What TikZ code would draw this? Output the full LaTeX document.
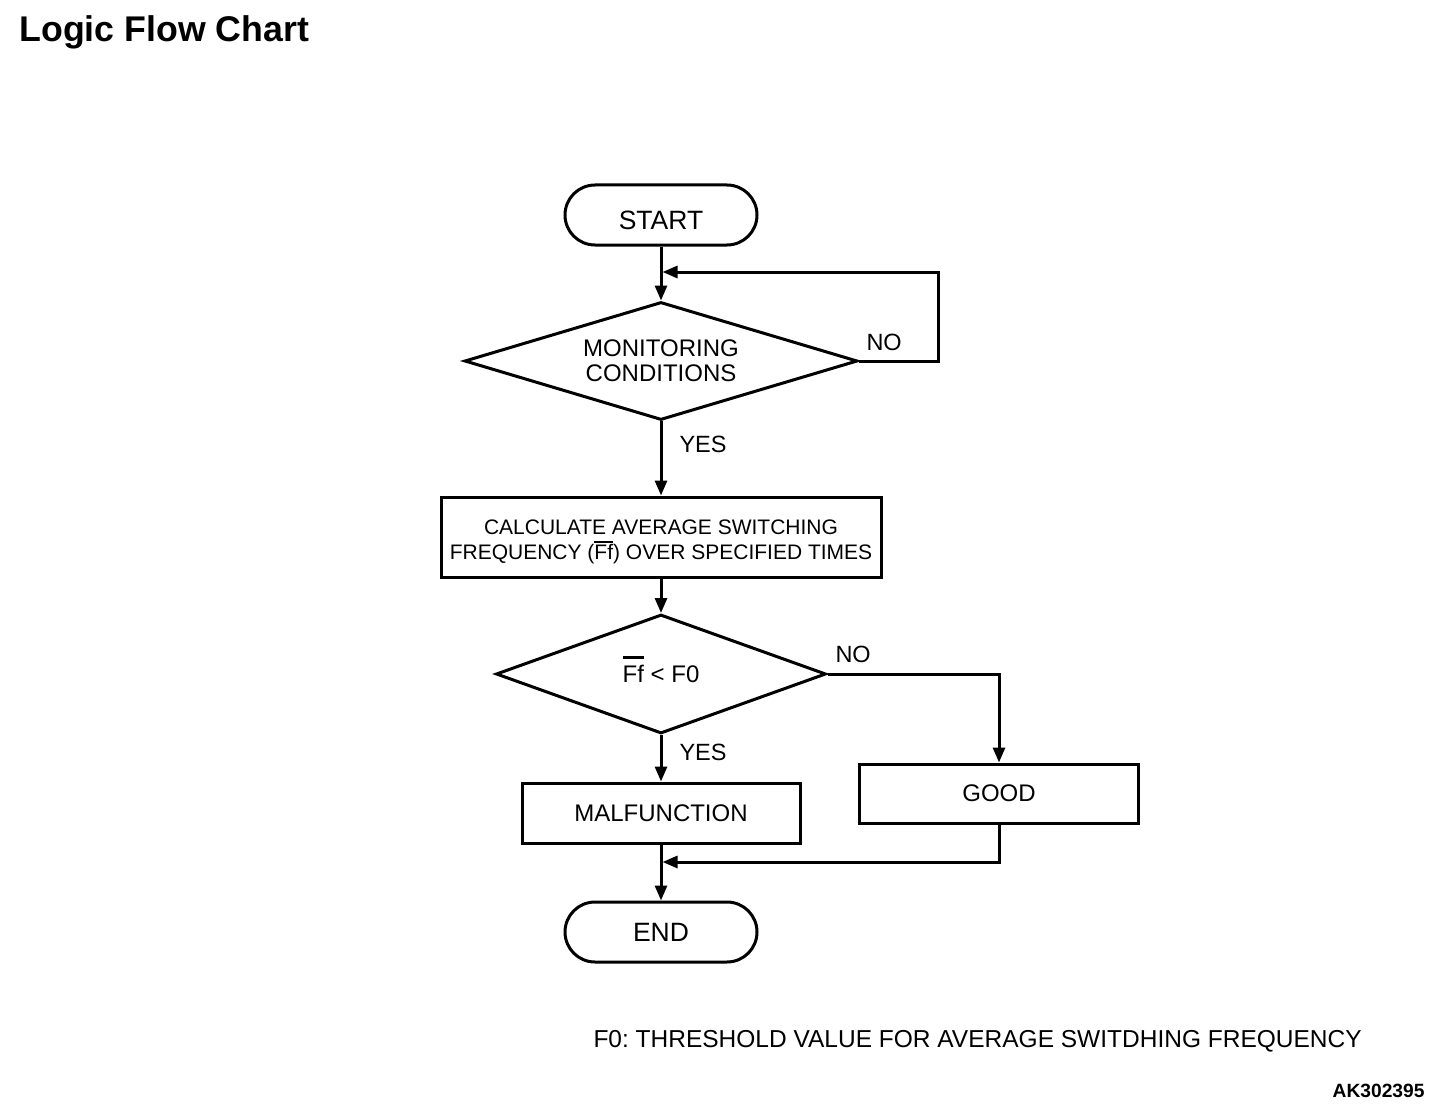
\documentclass[tikz,border=0pt]{standalone}
\usepackage{fontspec}
\setmainfont{Liberation Sans}
\usetikzlibrary{arrows.meta,shapes.geometric}
\newlength\ovlen
\newcommand\ovtxt[2]{\settowidth\ovlen{#2}\rlap{\smash{\raisebox{#1}{\rule{\ovlen}{2.2pt}}}}#2}
\newcommand\fs[2]{\fontsize{#1}{#2}\selectfont}
\frenchspacing
\begin{document}
\begin{tikzpicture}[x=1pt,y=-1pt,line width=3pt,
  term/.style={draw,rounded corners=30pt,minimum width=192pt,minimum height=60pt,inner sep=0pt,font=\fs{26.5}{30}},
  proc/.style={draw,inner sep=0pt,align=center},
  dec/.style={draw,diamond,inner sep=0pt,align=center},
  lbl/.style={anchor=base west,inner sep=0pt,font=\fs{23.5}{28}},
  arr/.style={-{Triangle[length=15pt,width=12pt]}}]
\useasboundingbox (0,0) rectangle (1456,1118);
\node[anchor=base west,inner sep=0pt,font=\bfseries\fs{35.7}{40}] (title) at (18,42) {Logic Flow Chart};
\node[term] (start) at (661,215) {\rule{0pt}{29pt}START};
\node[dec,shape aspect=3.3,minimum width=393pt,minimum height=118pt,font=\fs{24}{25}] (d1) at (661,361) {MONITORING\\CONDITIONS};
\node[proc,minimum width=440pt,minimum height=80pt,font=\fs{21}{25}] (calc) at (661,537) {\rule{0pt}{25pt}CALCULATE AVERAGE SWITCHING\\FREQUENCY (\ovtxt{0.8em}{Ff}) OVER SPECIFIED TIMES};
\node[dec,shape aspect=2.77,minimum width=330pt,minimum height=119pt,font=\fs{24}{28}] (d2) at (661,674) {\ovtxt{1.0em}{Ff} < F0};
\node[proc,minimum width=278pt,minimum height=60pt,font=\fs{24}{28}] (malf) at (661,813) {MALFUNCTION};
\node[proc,minimum width=279pt,minimum height=59pt,font=\fs{24}{28}] (good) at (999,793.5) {GOOD};
\node[term] (end) at (661,932) {END};
\coordinate (j1) at (661,272);
\coordinate (lx) at (938,0);
\coordinate (j2) at (661,862);
\draw[arr] (start) -- (d1);
\draw[arr,shorten >=1.5pt] (d1.east) -| (lx |- j1) -- (j1);
\draw[arr] (d1) -- (calc);
\draw[arr] (calc) -- (d2);
\draw[arr] (d2) -- (malf);
\draw[arr] (d2.east) -| (good);
\draw[arr] (malf) -- (end);
\draw[arr,shorten >=1.5pt] (good) |- (j2);
\node[lbl] (no1) at (865,350) {NO};
\node[lbl] (yes1) at (678,452) {YES};
\node[lbl] (no2) at (834,662) {NO};
\node[lbl] (yes2) at (678,760) {YES};
\node[anchor=base west,inner sep=0pt,font=\fs{24.5}{28}] (note) at (592,1047) {F0: THRESHOLD VALUE FOR AVERAGE SWITDHING FREQUENCY};
\node[anchor=base east,inner sep=0pt,font=\bfseries\fs{19.2}{22}] (code) at (1426,1097) {AK302395};
\end{tikzpicture}
\end{document}
